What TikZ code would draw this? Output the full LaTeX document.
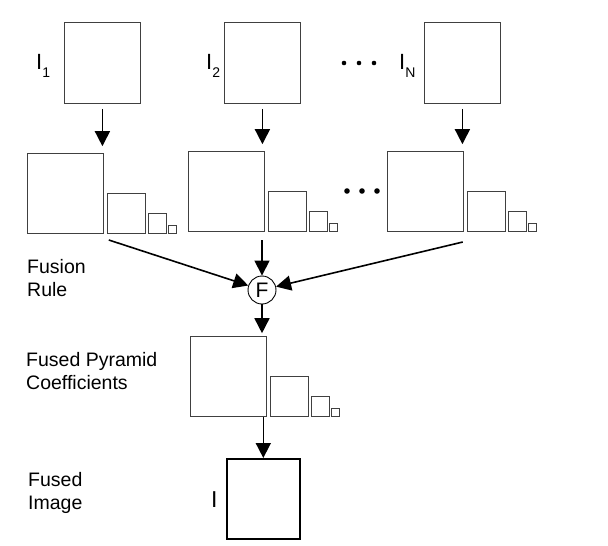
\documentclass[tikz,border=0pt]{standalone}
\usepackage{fontspec}
\setmainfont{Liberation Sans}
\usetikzlibrary{arrows.meta, positioning}

% one pyramid: name, left x, bottom y
\newcommand{\pyr}[3]{%
  \node[box, minimum width=76pt, minimum height=80pt, anchor=south west] (#1-0) at (#2,#3) {};
  \node[box, minimum width=38pt, minimum height=40pt, right=3pt of #1-0.south east, anchor=south west] (#1-1) {};
  \node[box, minimum width=18pt, minimum height=20pt, right=2pt of #1-1.south east, anchor=south west] (#1-2) {};
  \node[box, minimum width=8pt, minimum height=8pt, right=2pt of #1-2.south east, anchor=south west] (#1-3) {};
}
\newcommand{\lowidx}[1]{\raisebox{-8pt}{\fontsize{14}{14}\selectfont #1}}

\begin{document}
\begin{tikzpicture}[x=1pt, y=-1pt,
						box/.style = {draw=black!75, line width=0.8pt, inner sep=0pt},
						img/.style = {box, minimum width=76pt, minimum height=81pt, anchor=north west},
						lbl/.style = {font=\fontsize{19.5}{23}\selectfont, align=left, anchor=base west, inner sep=0pt},
						ilbl/.style = {font=\fontsize{22}{22}\selectfont, anchor=base west, inner sep=0pt},
						arr/.style = {-{Triangle[length=15pt, width=15pt]}, line width=1.6pt},
						fuse/.style = {draw, circle, line width=0.9pt, minimum size=28pt, inner sep=0pt, font=\fontsize{21}{21}\selectfont}
					]
\useasboundingbox (0,0) rectangle (608,546);

% source images
\node[img] (img1) at (64,22) {};
\node[img] (img2) at (224,22) {};
\node[img] (imgN) at (424,22) {};
\node[ilbl] (lbl1) at (36,69) {I\lowidx{1}};
\node[ilbl] (lbl2) at (206,69) {I\lowidx{2}};
\node[ilbl] (lblN) at (399,69) {I\lowidx{N}};
\foreach \x in {344,359,374}
	\fill (\x,63) circle (2.3pt);

% pyramids
\pyr{p1}{27}{234}
\pyr{p2}{188}{232}
\pyr{p3}{387}{232}
\foreach \x in {347,362,377}
	\fill (\x,191) circle (2.8pt);

\node[fuse] (F) at (262,290) {F};
\pyr{fp}{190}{417}
\node[box, line width=1.6pt, draw=black, minimum width=73pt, minimum height=80pt, anchor=north west] (fimg) at (226,458) {};
\node[ilbl, font=\fontsize{23}{23}\selectfont] (lblI) at (211,507) {I};

% labels (base = last line)
\node[lbl] (rule) at (27,296) {Fusion\\Rule};
\node[lbl] (coef) at (26,389) {Fused Pyramid\\Coefficients};
\node[lbl] (fused) at (28,509) {Fused\\Image};

\draw[arr, shorten <=5pt, shorten >=7pt] (img1) -- (img1 |- p1-0.north);
\draw[arr, shorten <=5pt, shorten >=7pt] (img2) -- (img2 |- p2-0.north);
\draw[arr, shorten <=5pt, shorten >=7pt] (imgN) -- (imgN |- p3-0.north);
\draw[arr] ([xshift=5pt, yshift=-6pt]p1-0.south east) -- (F);
\draw[arr, shorten <=8pt] (F |- p2-0.south) -- (F);
\draw[arr] ([xshift=-1pt, yshift=-10pt]p3-0.south east) -- (F);
\draw[arr, shorten >=3pt] (F) -- (F |- fp-0.north);
\draw[arr] (fimg.north |- fp-0.south) -- (fimg);
\end{tikzpicture}
\end{document}
